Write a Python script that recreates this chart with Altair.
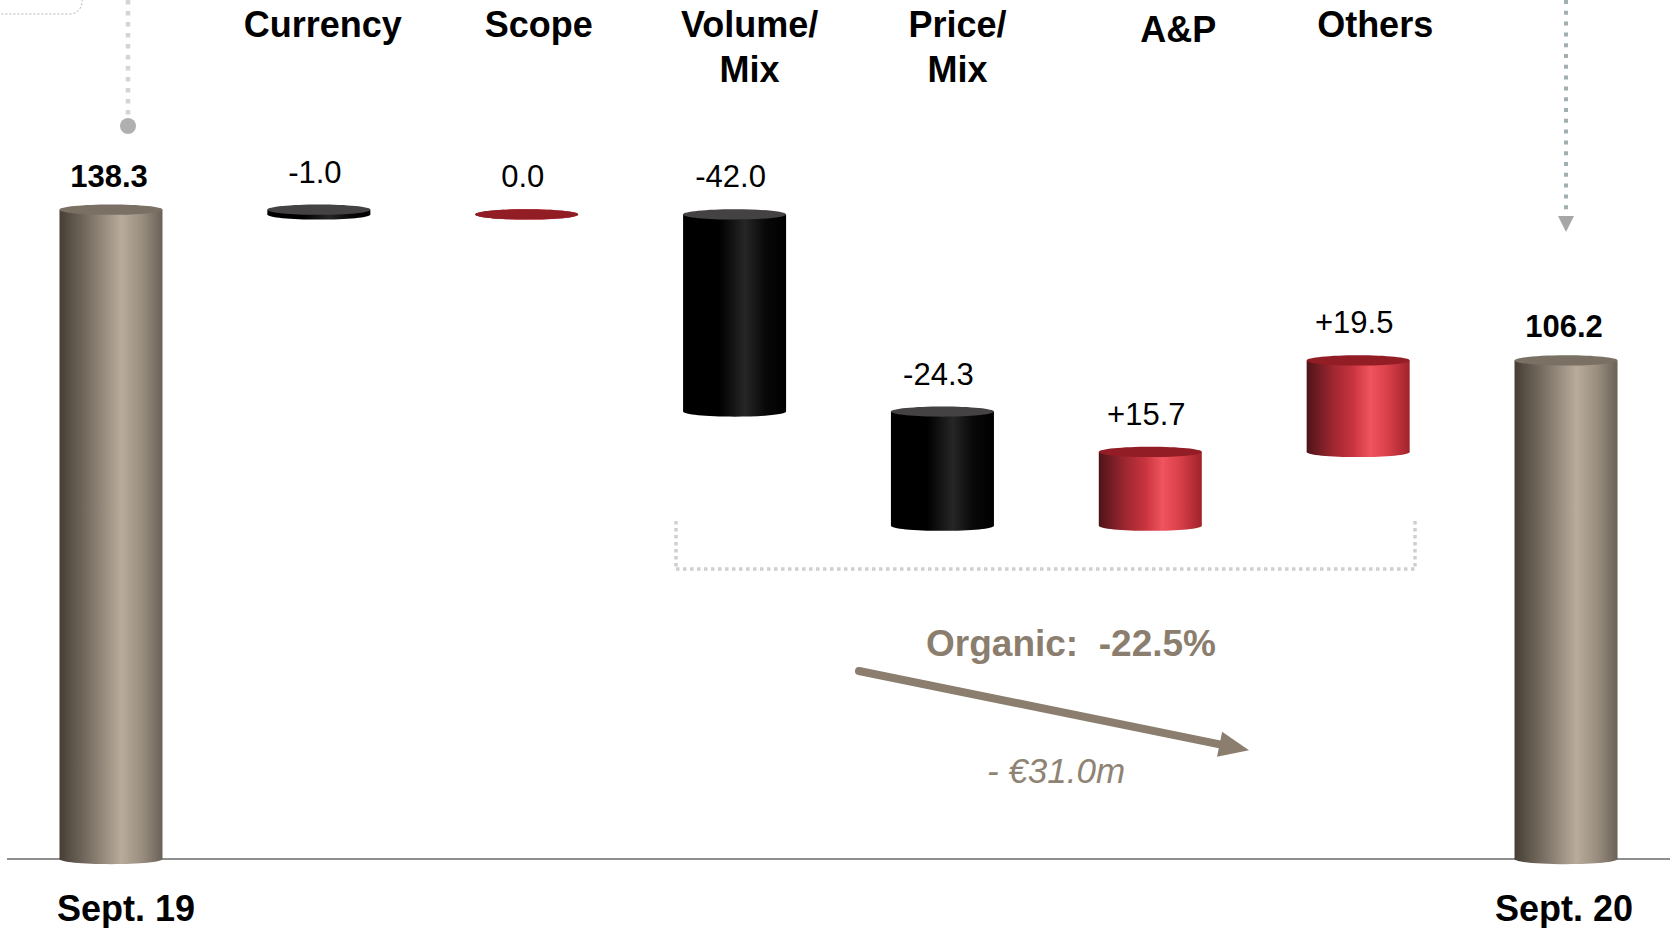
import altair as alt
import pandas as pd

# ---------------- data ----------------
categories = ["Sept. 19", "Currency", "Scope", "Volume/\nMix", "Price/\nMix", "A&P", "Others", "Sept. 20"]
values = [138.3, -1.0, 0.0, -42.0, -24.3, 15.7, 19.5, 106.2]
value_labels = ["138.3", "-1.0", "0.0", "-42.0", "-24.3", "+15.7", "+19.5", "106.2"]
is_total = [True, False, False, False, False, False, False, True]

organic_text = "Organic:\u00a0 -22.5%"
delta_text = "- \u20ac31.0m"

# ---------------- derived waterfall table ----------------
HALF = 0.2478  # half bar width in category-index units
rows = []
running = 0.0
for i, (c, v, lab, tot) in enumerate(zip(categories, values, value_labels, is_total)):
    if tot:
        start, end = 0.0, v
        running = v
        kind = "total"
    else:
        start, end = running, running + v
        running = end
        kind = "pos" if v >= 0 else "neg"
    rows.append(dict(idx=i, cat=c, label=lab, start=start, end=end,
                     top=max(start, end), bottom=min(start, end), kind=kind,
                     left=i - HALF, right=i + HALF))
df = pd.DataFrame(rows)
one = pd.DataFrame({"a": [0]})

# ---------------- scales ----------------
PX0, STEP = 111.0, 207.86
BASE, PPU = 859.0, 4.695
XS = alt.Scale(domain=[-PX0 / STEP, (1673 - PX0) / STEP], nice=False, zero=False)
YS = alt.Scale(domain=[-(928 - BASE) / PPU, BASE / PPU], nice=False, zero=False)

FONT = "Liberation Sans"
ELL = "M-1,0A1,0.1,0,1,1,1,0A1,0.1,0,1,1,-1,0Z"
ESIZE = 103 ** 2


def grad(stops):
    return alt.Gradient(gradient="linear", x1=0, x2=1, y1=0, y2=0,
                        stops=[alt.GradientStop(color=c, offset=o) for o, c in stops])


GRADS = {
    "total": grad([(0, "#463e35"), (0.3, "#7d7367"), (0.6, "#b8ab9b"), (0.8, "#9a8e80"), (1, "#6a6157")]),
    "neg": grad([(0, "#000000"), (0.35, "#000000"), (0.6, "#262626"), (0.8, "#080808"), (1, "#000000")]),
    "pos": grad([(0, "#4e1418"), (0.25, "#9c2630"), (0.45, "#c8343e"), (0.62, "#f0545e"), (0.8, "#d63e48"), (1, "#a0222b")]),
}
TOPS = {"total": "#7a7064", "neg": "#444242", "pos": "#921d25"}

layers = []

# baseline
layers.append(alt.Chart(one).mark_rule(color="#8f8f8f", strokeWidth=2).encode(
    y=alt.Y(datum=0, scale=YS, axis=None), x=alt.value(7), x2=alt.value(1670)))

for kind in ["total", "neg", "pos"]:
    base = alt.Chart(df).transform_filter(alt.datum.kind == kind)
    # bottom rounded ellipse
    layers.append(base.mark_point(shape=ELL, filled=True, fill=GRADS[kind], size=ESIZE,
                                  opacity=1, strokeWidth=0).encode(
        x=alt.X("idx:Q", scale=XS, axis=None), y=alt.Y("bottom:Q", scale=YS, axis=None)))
    # cylinder body
    layers.append(base.mark_bar(fill=GRADS[kind], strokeWidth=0).encode(
        x=alt.X("left:Q", scale=XS, axis=None), x2="right:Q",
        y=alt.Y("start:Q", scale=YS, axis=None), y2="end:Q"))
    # top ellipse
    layers.append(base.mark_point(shape=ELL, filled=True, fill=TOPS[kind], size=ESIZE,
                                  opacity=1, strokeWidth=0).encode(
        x=alt.X("idx:Q", scale=XS, axis=None), y=alt.Y("top:Q", scale=YS, axis=None)))

# value labels
layers.append(alt.Chart(df).transform_filter(alt.datum.kind == "total").mark_text(
    font=FONT, fontSize=31, fontWeight="bold", baseline="alphabetic", dy=-23, dx=-2, color="black").encode(
    x=alt.X("idx:Q", scale=XS, axis=None), y=alt.Y("top:Q", scale=YS, axis=None), text="label:N"))
layers.append(alt.Chart(df).transform_filter(alt.datum.kind != "total").mark_text(
    font=FONT, fontSize=31, baseline="alphabetic", dy=-27, dx=-4, color="black").encode(
    x=alt.X("idx:Q", scale=XS, axis=None), y=alt.Y("top:Q", scale=YS, axis=None), text="label:N"))

# headers (small per-header horizontal nudges as in the slide)
HEADER_DX = {1: 4, 2: 12, 3: 15, 4: 15, 5: 28, 6: 17}
HEADER_DY = {5: 5}
for i, dxv in HEADER_DX.items():
    layers.append(alt.Chart(df).transform_filter(alt.datum.idx == i).mark_text(
        font=FONT, fontSize=36, fontWeight="bold", baseline="alphabetic", lineBreak="\n",
        lineHeight=45, dx=dxv, dy=HEADER_DY.get(i, 0), color="black").encode(
        x=alt.X("idx:Q", scale=XS, axis=None), y=alt.value(37), text="cat:N"))

# bottom total labels
layers.append(alt.Chart(df).transform_filter(alt.datum.idx == 0).mark_text(
    font=FONT, fontSize=36, fontWeight="bold", baseline="alphabetic", dx=15, color="black").encode(
    x=alt.X("idx:Q", scale=XS, axis=None), y=alt.value(921), text="cat:N"))
layers.append(alt.Chart(df).transform_filter(alt.datum.idx == 7).mark_text(
    font=FONT, fontSize=36, fontWeight="bold", baseline="alphabetic", dx=-2, color="black").encode(
    x=alt.X("idx:Q", scale=XS, axis=None), y=alt.value(921), text="cat:N"))

# ---------------- decorations ----------------
# top-left box fragment
layers.append(alt.Chart(one).mark_rect(fillOpacity=0, stroke="#b5b5b5", strokeWidth=1,
                                       strokeDash=[2, 2], cornerRadius=12).encode(
    x=alt.value(-40), x2=alt.value(82), y=alt.value(-40), y2=alt.value(14)))
# left dotted connector + dot
layers.append(alt.Chart(one).mark_rule(stroke="#d4d4d4", strokeWidth=4.5, strokeDash=[4.5, 6.5]).encode(
    x=alt.value(128), y=alt.value(0), y2=alt.value(118)))
layers.append(alt.Chart(one).mark_point(shape="circle", filled=True, color="#b0b0b0", size=256, opacity=1).encode(
    x=alt.value(128), y=alt.value(126)))
# right dotted arrow
layers.append(alt.Chart(one).mark_rule(stroke="#a3aeb2", strokeWidth=4, strokeDash=[4, 6.8]).encode(
    x=alt.value(1566), y=alt.value(0), y2=alt.value(216)))
layers.append(alt.Chart(one).mark_point(shape="M-1,-1L1,-1L0,1Z", filled=True, color="#a6a6a6",
                                        size=256, opacity=1).encode(
    x=alt.value(1566), y=alt.value(224)))
# bracket
for xa in [676, 1415]:
    layers.append(alt.Chart(one).mark_rule(stroke="#cfcfcf", strokeWidth=3.5, strokeDash=[3.5, 3.5]).encode(
        x=alt.value(xa), y=alt.value(521), y2=alt.value(569)))
layers.append(alt.Chart(one).mark_rule(stroke="#cfcfcf", strokeWidth=3.5, strokeDash=[3.5, 3.5]).encode(
    x=alt.value(676), x2=alt.value(1415), y=alt.value(569)))
# organic arrow
layers.append(alt.Chart(one).mark_rule(stroke="#8b7e6e", strokeWidth=8, strokeCap="round").encode(
    x=alt.value(859), y=alt.value(671), x2=alt.value(1232), y2=alt.value(746.8)))
layers.append(alt.Chart(one).mark_point(shape="M-1,-0.85L1,0L-1,0.85Z", filled=True, color="#8b7e6e",
                                        size=900, opacity=1, angle=11.5).encode(
    x=alt.value(1234.3), y=alt.value(747.2)))
# annotation texts
layers.append(alt.Chart(one).mark_text(font=FONT, fontSize=37, fontWeight="bold", color="#8b7e6e",
                                       baseline="middle", align="center").encode(
    x=alt.value(1071), y=alt.value(645), text=alt.value(organic_text)))
layers.append(alt.Chart(one).mark_text(font=FONT, fontSize=35, fontStyle="italic", color="#8f8374",
                                       baseline="middle", align="center").encode(
    x=alt.value(1056), y=alt.value(772), text=alt.value(delta_text)))

chart = alt.layer(*layers).properties(
    width=1673, height=928, padding=0,
    autosize=alt.AutoSizeParams(type="none"),
    background="white",
).configure_view(stroke=None)

chart.save("out.html", embed_options={"renderer": "svg", "actions": False})
